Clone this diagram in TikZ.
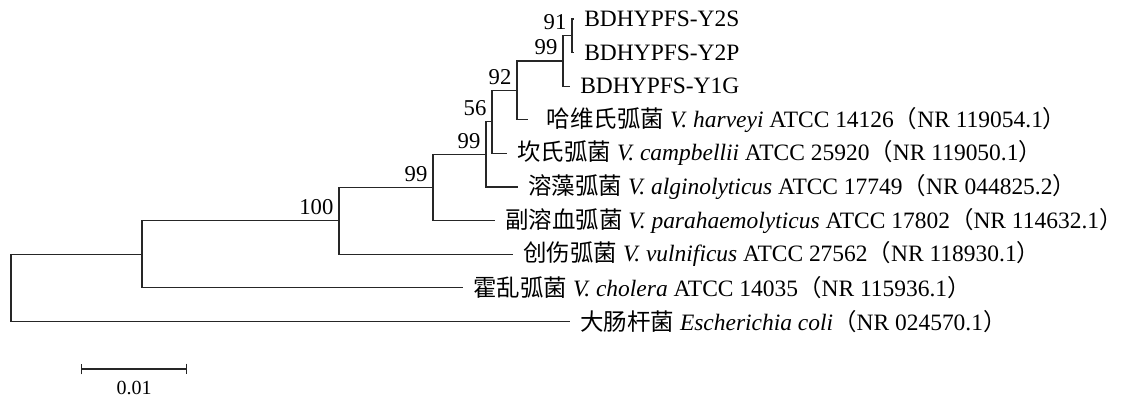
\documentclass[tikz,border=0pt]{standalone}
\usepackage{fontspec}
\setmainfont{Liberation Serif}
\newfontfamily\cjk{Noto Sans CJK SC}
\newcommand{\zh}[1]{{\cjk #1}}
\usepackage{tikz}
\usetikzlibrary{positioning, arrows.meta}

\begin{document}
\begin{tikzpicture}[
    x=0.75pt, y=-0.75pt,
    branch/.style={line width=0.8pt, draw=black!85},
    leaf/.style={anchor=west, inner ysep=0pt, inner xsep=7.5pt, font=\fontsize{17.6}{20}\selectfont},
    boot/.style={anchor=base east, inner sep=0pt, xshift=-4pt, yshift=4.5pt, font=\fontsize{17}{20}\selectfont},
    scalebar/.style={line width=0.8pt, draw=black!85, {Bar[width=8pt]}-{Bar[width=8pt]}}
]
\useasboundingbox (0,0) rectangle (1121,398);

% Internal nodes
\coordinate (n91)    at (572,35.8);
\coordinate (n99a)   at (563,61);
\coordinate (n92)    at (517,90.4);
\coordinate (n56)    at (492,121.9);
\coordinate (n99b)   at (486,154.45);
\coordinate (n99c)   at (433,187.5);
\coordinate (n100)   at (339,220.9);
\coordinate (ninner) at (142,254.3);
\coordinate (root)   at (11,287.9);

% Leaves
\node[leaf] (y2s) at (574,19)    {BDHYPFS-Y2S};
\node[leaf] (y2p) at (574,52.6)  {BDHYPFS-Y2P};
\node[leaf] (y1g) at (570,86.2)  {BDHYPFS-Y1G};
\node[leaf, inner xsep=14pt] (har) at (528,119.8) {\zh{哈维氏弧菌} \textit{V. harveyi} ATCC 14126\zh{（}NR 119054.1\zh{）}};
\node[leaf] (cam) at (507,153.4) {\zh{坎氏弧菌} \textit{V. campbellii} ATCC 25920\zh{（}NR 119050.1\zh{）}};
\node[leaf] (alg) at (518,187)   {\zh{溶藻弧菌} \textit{V. alginolyticus} ATCC 17749\zh{（}NR 044825.2\zh{）}};
\node[leaf] (par) at (495,220.6) {\zh{副溶血弧菌} \textit{V. parahaemolyticus} ATCC 17802\zh{（}NR 114632.1\zh{）}};
\node[leaf] (vul) at (513,254.2) {\zh{创伤弧菌} \textit{V. vulnificus} ATCC 27562\zh{（}NR 118930.1\zh{）}};
\node[leaf] (cho) at (463,287.8) {\zh{霍乱弧菌} \textit{V. cholera} ATCC 14035\zh{（}NR 115936.1\zh{）}};
\node[leaf] (eco) at (570,321.4) {\zh{大肠杆菌} \textit{Escherichia coli}\zh{（}NR 024570.1\zh{）}};

% Branches
\draw[branch] (n91) |- (y2s.west);
\draw[branch] (n91) |- (y2p.west);
\draw[branch] (n99a) |- (n91);
\draw[branch] (n99a) |- (y1g.west);
\draw[branch] (n92) |- (n99a);
\draw[branch] (n92) |- (har.west);
\draw[branch] (n56) |- (n92);
\draw[branch] (n56) |- (cam.west);
\draw[branch] (n99b) |- (n56);
\draw[branch] (n99b) |- (alg.west);
\draw[branch] (n99c) |- (n99b);
\draw[branch] (n99c) |- (par.west);
\draw[branch] (n100) |- (n99c);
\draw[branch] (n100) |- (vul.west);
\draw[branch] (ninner) |- (n100);
\draw[branch] (ninner) |- (cho.west);
\draw[branch] (root) |- (ninner);
\draw[branch] (root) |- (eco.west);

% Bootstrap values
\node[boot] (b91)  at (n91)  {91};
\node[boot] (b99a) at (n99a) {99};
\node[boot] (b92)  at (n92)  {92};
\node[boot] (b56)  at (n56)  {56};
\node[boot] (b99b) at (n99b) {99};
\node[boot] (b99c) at (n99c) {99};
\node[boot] (b100) at (n100) {100};

% Scale bar
\coordinate (sbl) at (81,369);
\coordinate (sbr) at (187,369);
\draw[scalebar] (sbl) -- (sbr) node[midway, yshift=-14pt, font=\fontsize{15}{18}\selectfont] (sblabel) {0.01};

\end{tikzpicture}
\end{document}
